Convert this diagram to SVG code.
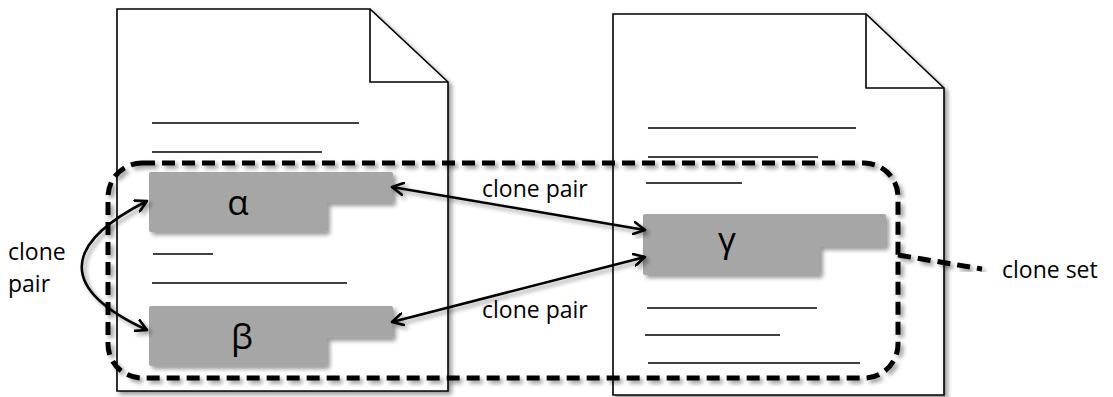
<svg xmlns="http://www.w3.org/2000/svg" width="1113" height="397" viewBox="0 0 1113 397">
  <defs>
    <filter id="shadow" x="-10%" y="-10%" width="130%" height="130%">
      <feDropShadow dx="3" dy="3" stdDeviation="2" flood-color="#000" flood-opacity="0.4"/>
    </filter>
    <marker id="head" viewBox="0 0 14 14" refX="12" refY="7" markerWidth="14" markerHeight="14" markerUnits="userSpaceOnUse" orient="auto-start-reverse">
      <path d="M1,1 L12,7 L1,13" fill="none" stroke="#000" stroke-width="2.6" stroke-linecap="round" stroke-linejoin="round"/>
    </marker>
    <style>
      .doc { fill: #fff; stroke: #000; stroke-width: 1.6; stroke-linejoin: miter; filter: url(#shadow); }
      .fold { fill: none; stroke: #000; stroke-width: 1.6; }
      .rule { stroke: #000; stroke-width: 1.6; }
      .block { fill: #a6a6a6; filter: url(#shadow); }
      .sym { font-family: "Open Sans", "Liberation Sans", sans-serif; font-size: 35px; fill: #000; text-anchor: middle; }
      .lbl { font-family: "Open Sans", "Liberation Sans", sans-serif; font-size: 23px; fill: #000; }
      .set { fill: none; stroke: #000; stroke-width: 5; stroke-dasharray: 13 7; filter: url(#shadow); }
      .pair { fill: none; stroke: #000; stroke-width: 2.6; marker-start: url(#head); marker-end: url(#head); filter: url(#shadow); }
    </style>
  </defs>

  <!-- left source file -->
  <g id="file-left">
    <path class="doc" d="M117,9 H370 L448,82 V391 H117 Z"/>
    <path class="fold" d="M370,9 V82 H448"/>
    <line class="rule" x1="152" y1="123" x2="359" y2="123"/>
    <line class="rule" x1="152" y1="152" x2="322" y2="152"/>
    <line class="rule" x1="153" y1="254" x2="213" y2="254"/>
    <line class="rule" x1="152" y1="283" x2="347" y2="283"/>
  </g>

  <!-- right source file -->
  <g id="file-right">
    <path class="doc" d="M613,14 H866 L944,88 V395 H613 Z"/>
    <path class="fold" d="M866,14 V88 H944"/>
    <line class="rule" x1="648" y1="128" x2="856" y2="128"/>
    <line class="rule" x1="648" y1="157" x2="818" y2="157"/>
    <line class="rule" x1="646" y1="183" x2="742" y2="183"/>
    <line class="rule" x1="647" y1="308" x2="817" y2="308"/>
    <line class="rule" x1="645" y1="335" x2="780" y2="335"/>
    <line class="rule" x1="648" y1="363" x2="860" y2="363"/>
  </g>

  <!-- code fragments -->
  <g id="frag-alpha">
    <path class="block" d="M151,172 H391 Q393,172 393,174 V201 Q393,203 391,203 H327 V230 Q327,232 325,232 H151 Q149,232 149,230 V174 Q149,172 151,172 Z"/>
    <text class="sym" x="238" y="215">α</text>
  </g>
  <g id="frag-beta">
    <path class="block" d="M151,306 H391 Q393,306 393,308 V336 Q393,338 391,338 H327 V364 Q327,366 325,366 H151 Q149,366 149,364 V308 Q149,306 151,306 Z"/>
    <text class="sym" x="242" y="349">β</text>
  </g>
  <g id="frag-gamma">
    <path class="block" d="M645,214 H884 Q886,214 886,216 V245 Q886,247 884,247 H820 V273 Q820,275 818,275 H645 Q643,275 643,273 V216 Q643,214 645,214 Z"/>
    <text class="sym" x="727" y="252">γ</text>
  </g>

  <!-- clone set boundary -->
  <g id="clone-set">
    <rect class="set" x="108" y="163" width="790" height="215" rx="34" ry="34"/>
    <text class="lbl" x="1002" y="278">clone set</text>
  </g>

  <!-- connectors -->
  <g id="connectors">
    <path class="pair" d="M147,201 C60,245 60,290 147,330"/>
    <line class="pair" x1="392" y1="187" x2="645" y2="230"/>
    <line class="pair" x1="392" y1="322" x2="645" y2="257"/>
    <line x1="898" y1="255" x2="982" y2="269" stroke="#000" stroke-width="5" stroke-dasharray="13 7" filter="url(#shadow)"/>
    <text class="lbl" x="8" y="260">clone</text>
    <text class="lbl" x="8" y="292">pair</text>
    <text class="lbl" x="482" y="197">clone pair</text>
    <text class="lbl" x="482" y="318">clone pair</text>
  </g>
</svg>
